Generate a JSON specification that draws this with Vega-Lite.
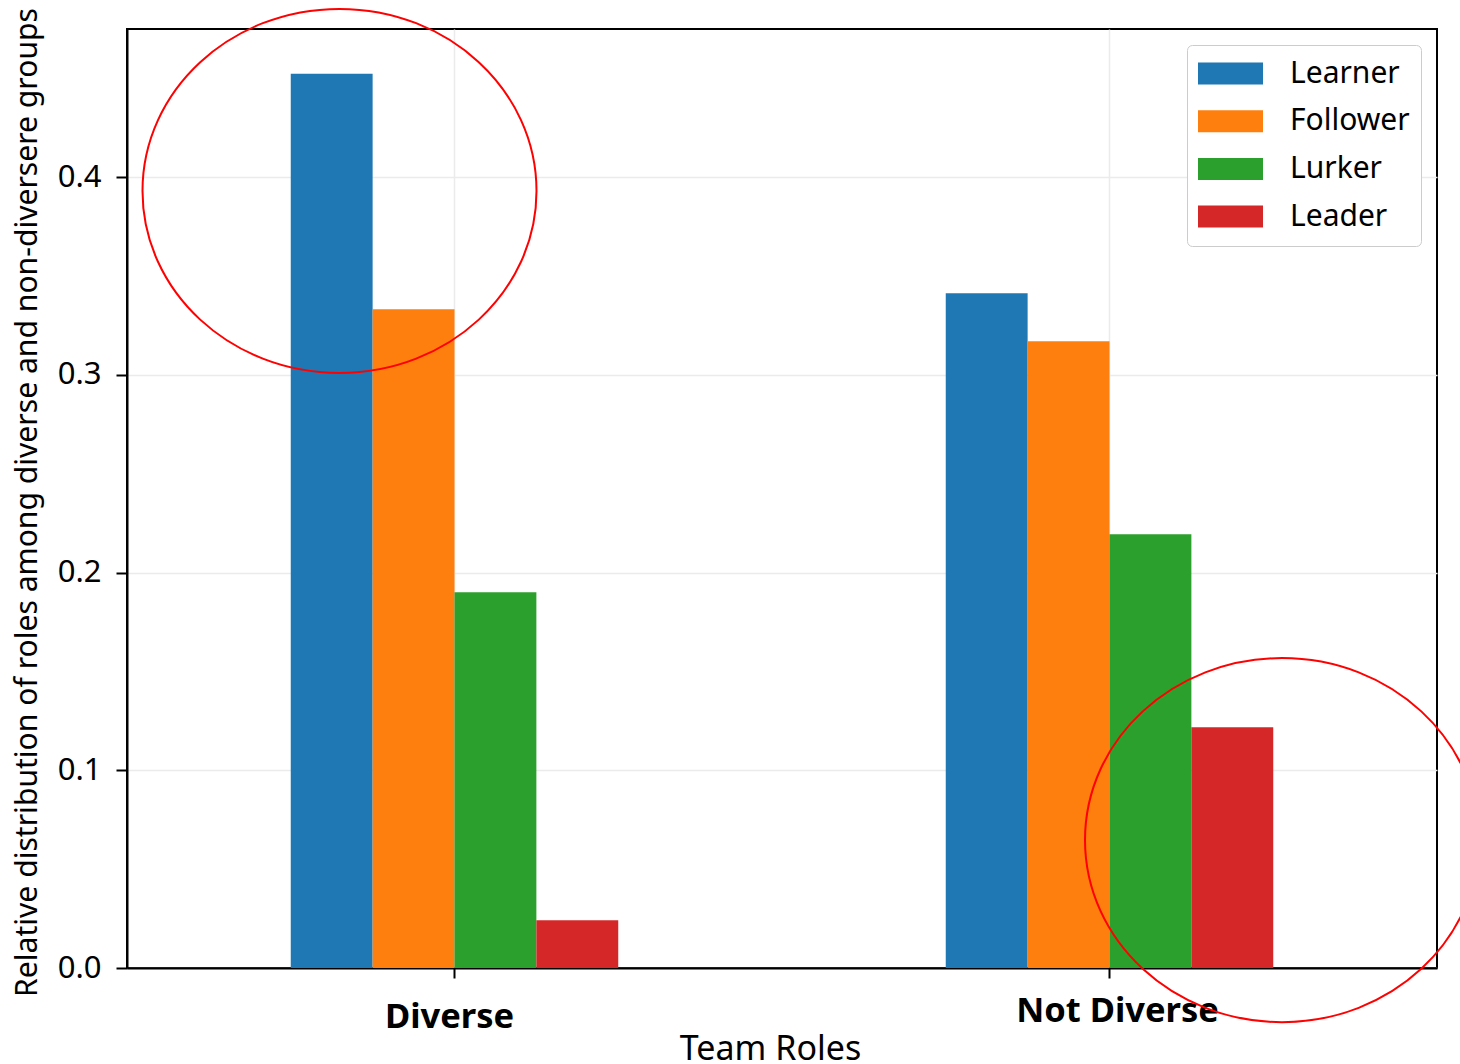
{
  "$schema": "https://vega.github.io/schema/vega-lite/v6.json",
  "autosize": {"type": "none"},
  "padding": {"left": 127, "top": 29, "right": 23, "bottom": 96},
  "width": 1310,
  "height": 939,
  "background": "white",
  "config": {
    "font": "Noto Sans",
    "view": {"stroke": "black", "strokeWidth": 2},
    "axis": {
      "domainColor": "black",
      "domainWidth": 2,
      "tickColor": "black",
      "tickWidth": 2,
      "tickSize": 10,
      "gridColor": "#ebebeb",
      "gridWidth": 1.5,
      "labelColor": "black",
      "titleColor": "black",
      "labelFont": "Noto Sans",
      "titleFont": "Noto Sans",
      "titleFontWeight": "normal"
    }
  },
  "datasets": {
    "bars": [
      {"team": "Diverse", "role": "Learner", "value": 0.4523},
      {"team": "Diverse", "role": "Follower", "value": 0.3332},
      {"team": "Diverse", "role": "Lurker", "value": 0.1901},
      {"team": "Diverse", "role": "Leader", "value": 0.0241},
      {"team": "Not Diverse", "role": "Learner", "value": 0.3413},
      {"team": "Not Diverse", "role": "Follower", "value": 0.3170},
      {"team": "Not Diverse", "role": "Lurker", "value": 0.2194},
      {"team": "Not Diverse", "role": "Leader", "value": 0.1218}
    ]
  },
  "layer": [
    {
      "data": {"name": "bars"},
      "mark": {"type": "bar", "opacity": 1},
      "encoding": {
        "x": {
          "field": "team",
          "type": "nominal",
          "sort": ["Diverse", "Not Diverse"],
          "scale": {"paddingInner": 0.5, "paddingOuter": 0.25},
          "axis": {
            "title": "Team Roles",
            "titleFontSize": 34,
            "titleX": 643,
            "titleY": 91,
            "titleAlign": "center",
            "titleBaseline": "alphabetic",
            "labelAngle": 0,
            "labelFontSize": 34.5,
            "labelFontWeight": "bold",
            "labelLimit": 600,
            "labelPadding": {"condition": {"test": "datum.value == 'Diverse'", "value": 22}, "value": 16},
            "labelOffset": {"condition": {"test": "datum.value == 'Diverse'", "value": -5}, "value": 8},
            "grid": true,
            "bandPosition": 0.5
          }
        },
        "xOffset": {
          "field": "role",
          "type": "nominal",
          "sort": ["Learner", "Follower", "Lurker", "Leader"],
          "scale": {"paddingInner": 0, "paddingOuter": 0}
        },
        "y": {
          "field": "value",
          "type": "quantitative",
          "scale": {"domain": [0, 0.475], "nice": false, "zero": true},
          "axis": {
            "title": "Relative distribution of roles among diverse and non-diversere groups",
            "titleFontSize": 30.1,
            "titlePadding": 15,
            "titleY": 473,
            "values": [0, 0.1, 0.2, 0.3, 0.4],
            "format": ".1f",
            "labelFontSize": 31,
            "labelPadding": 15,
            "tickSize": 11,
            "grid": true
          }
        },
        "color": {
          "field": "role",
          "type": "nominal",
          "sort": ["Learner", "Follower", "Lurker", "Leader"],
          "scale": {
            "domain": ["Learner", "Follower", "Lurker", "Leader"],
            "range": ["#1f77b4", "#ff7f0e", "#2ca02c", "#d62728"]
          },
          "legend": {
            "title": null,
            "orient": "none",
            "legendX": 1060,
            "legendY": 16,
            "padding": 11,
            "strokeColor": "#cccccc",
            "fillColor": "white",
            "cornerRadius": 5,
            "labelFontSize": 30,
            "labelFont": "Noto Sans",
            "labelColor": "black",
            "labelOffset": 27,
            "clipHeight": 35,
            "rowPadding": 12.7,
            "symbolType": "M -1 -0.338 L 1 -0.338 L 1 0.338 L -1 0.338 Z",
            "symbolSize": 4225,
            "symbolStrokeWidth": 0,
            "symbolOpacity": 1
          }
        }
      }
    },
    {
      "data": {"values": [{"team": "Diverse", "value": 0.3931}]},
      "mark": {
        "type": "point",
        "shape": "M 1 0 C 1 0.5103 0.5523 0.924 0 0.924 C -0.5523 0.924 -1 0.5103 -1 0 C -1 -0.5103 -0.5523 -0.924 0 -0.924 C 0.5523 -0.924 1 -0.5103 1 0 Z",
        "size": 155236,
        "filled": false,
        "stroke": "#ff0000",
        "strokeWidth": 2,
        "opacity": 1,
        "xOffset": -115
      },
      "encoding": {
        "x": {"field": "team", "type": "nominal", "sort": ["Diverse", "Not Diverse"]},
        "y": {"field": "value", "type": "quantitative"}
      }
    },
    {
      "data": {"values": [{"team": "Not Diverse", "value": 0.0647}]},
      "mark": {
        "type": "point",
        "shape": "M 1 0 C 1 0.5103 0.5523 0.924 0 0.924 C -0.5523 0.924 -1 0.5103 -1 0 C -1 -0.5103 -0.5523 -0.924 0 -0.924 C 0.5523 -0.924 1 -0.5103 1 0 Z",
        "size": 155236,
        "filled": false,
        "stroke": "#ff0000",
        "strokeWidth": 2,
        "opacity": 1,
        "xOffset": 172.5
      },
      "encoding": {
        "x": {"field": "team", "type": "nominal", "sort": ["Diverse", "Not Diverse"]},
        "y": {"field": "value", "type": "quantitative"}
      }
    }
  ]
}
